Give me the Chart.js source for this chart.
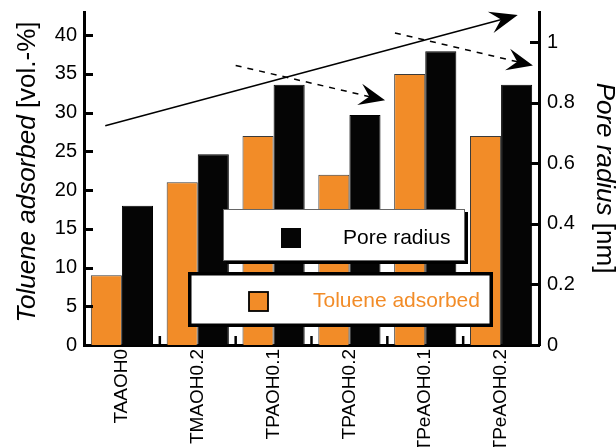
<!DOCTYPE html>
<html><head><meta charset="utf-8">
<script src="https://cdn.jsdelivr.net/npm/chart.js@4.4.0/dist/chart.umd.min.js"></script>
<style>html,body{margin:0;padding:0;background:#fff;} #wrap{width:616px;height:447px;position:relative;}</style>
</head><body><div id="wrap"><canvas id="c" width="616" height="447"></canvas></div>
<script>
// ---- data ----
const categories = ['TAAOH0', 'TMAOH0.2', 'TPAOH0.1', 'TPAOH0.2', 'TPeAOH0.1', 'TPeAOH0.2'];
const tolueneAdsorbed = [9, 21, 27, 22, 35, 27];
const poreRadius = [0.46, 0.63, 0.86, 0.76, 0.97, 0.86];
const leftTicks = [0, 5, 10, 15, 20, 25, 30, 35, 40];
const rightTicks = [0, 0.2, 0.4, 0.6, 0.8, 1];
// trend arrows in data coordinates: [category index, toluene value]
const arrowFrom = [[-0.22, 28.3], [1.50, 36.1], [3.60, 40.3]];
const arrowTo = [[5.22, 42.6], [3.47, 31.6], [5.42, 36.1]];
const arrowDashed = [false, true, true];

const FONT = '"Liberation Sans", Arial, Helvetica, sans-serif';
const ORANGE = '#F28C28';
const BLACK = '#050505';

function drawArrowHead(ctx, tx, ty, dx, dy, L, W) {
  const nx = -dy, ny = dx;
  const bx = tx - L * dx, by = ty - L * dy;
  const mx = tx - 0.62 * L * dx, my = ty - 0.62 * L * dy;
  ctx.beginPath();
  ctx.moveTo(tx, ty);
  ctx.lineTo(bx + W * nx, by + W * ny);
  ctx.lineTo(mx, my);
  ctx.lineTo(bx - W * nx, by - W * ny);
  ctx.closePath();
  ctx.fill();
}

const decor = {
  id: 'decor',
  afterDatasetsDraw(chart) {
    const ctx = chart.ctx, xs = chart.scales.x, ys = chart.scales.yL;
    ctx.save();
    ctx.strokeStyle = '#000'; ctx.fillStyle = '#000';
    for (let i = 0; i < arrowFrom.length; i++) {
      const x0 = xs.getPixelForValue(arrowFrom[i][0]), y0 = ys.getPixelForValue(arrowFrom[i][1]);
      const x1 = xs.getPixelForValue(arrowTo[i][0]), y1 = ys.getPixelForValue(arrowTo[i][1]);
      const len = Math.hypot(x1 - x0, y1 - y0);
      const dx = (x1 - x0) / len, dy = (y1 - y0) / len;
      const L = arrowDashed[i] ? 26 : 28, W = 11;
      ctx.lineWidth = 1.5;
      ctx.setLineDash(arrowDashed[i] ? [6, 6] : []);
      ctx.beginPath();
      ctx.moveTo(x0, y0);
      ctx.lineTo(x1 - 0.6 * L * dx, y1 - 0.6 * L * dy);
      ctx.stroke();
      ctx.setLineDash([]);
      drawArrowHead(ctx, x1, y1, dx, dy, L, W);
    }
    ctx.restore();
  },
  afterDraw(chart) {
    const ctx = chart.ctx, a = chart.chartArea;
    const xs = chart.scales.x, yl = chart.scales.yL, yr = chart.scales.yR;
    ctx.save();
    // inward ticks
    ctx.strokeStyle = '#000';
    ctx.lineWidth = 3;
    yl.ticks.forEach(t => {
      const y = Math.round(yl.getPixelForValue(t.value)) + 0.5;
      if (t.value === 0) return;
      ctx.beginPath(); ctx.moveTo(a.left, y); ctx.lineTo(a.left + 9, y); ctx.stroke();
    });
    yr.ticks.forEach(t => {
      const y = Math.round(yr.getPixelForValue(t.value)) + 0.5;
      if (t.value === 0) return;
      ctx.beginPath(); ctx.moveTo(a.right, y); ctx.lineTo(a.right - 9, y); ctx.stroke();
    });
    ctx.lineWidth = 2.5;
    for (let i = 0; i < categories.length - 1; i++) {
      const x = (xs.getPixelForTick(i) + xs.getPixelForTick(i + 1)) / 2;
      ctx.beginPath(); ctx.moveTo(x, a.bottom); ctx.lineTo(x, a.bottom - 9); ctx.stroke();
    }
    // axis titles with mixed styles
    function mixedTitle(parts, cx, cy, rot) {
      ctx.save();
      ctx.translate(cx, cy);
      ctx.rotate(rot);
      ctx.textBaseline = 'alphabetic';
      ctx.fillStyle = '#000';
      let total = 0;
      parts.forEach(p => { ctx.font = p[1] + ' 26px ' + FONT; total += ctx.measureText(p[0]).width; });
      let x = -total / 2;
      parts.forEach(p => { ctx.font = p[1] + ' 26px ' + FONT; ctx.fillText(p[0], x, 0); x += ctx.measureText(p[0]).width; });
      ctx.restore();
    }
    mixedTitle([['Toluene adsorbed', 'italic'], [' [vol.-%]', 'normal']], 35, 172, -Math.PI / 2);
    mixedTitle([['Pore radius', 'italic'], [' [nm]', 'normal']], 597, 178, Math.PI / 2);

    // legend boxes
    const dsT = chart.data.datasets[0], dsP = chart.data.datasets[1];
    // box 1: pore radius
    ctx.fillStyle = '#000';
    ctx.fillRect(226, 212, 242, 52);
    ctx.fillStyle = '#fff';
    ctx.fillRect(223, 209, 242, 52);
    ctx.strokeStyle = '#666'; ctx.lineWidth = 1;
    ctx.strokeRect(223.5, 209.5, 241, 51);
    ctx.fillStyle = dsP.backgroundColor;
    ctx.fillRect(281, 228, 20, 20);
    ctx.font = '21px ' + FONT;
    ctx.textBaseline = 'middle';
    ctx.textAlign = 'left';
    ctx.fillStyle = '#000';
    ctx.fillText(dsP.label, 343, 238);
    // box 2: toluene adsorbed
    ctx.fillStyle = '#fff';
    ctx.fillRect(188, 272, 305, 55);
    ctx.strokeStyle = '#000'; ctx.lineWidth = 3.5;
    ctx.strokeRect(189.75, 273.75, 301.5, 51.5);
    ctx.fillStyle = dsT.backgroundColor;
    ctx.fillRect(249, 292, 19, 19);
    ctx.lineWidth = 1.8; ctx.strokeStyle = '#000';
    ctx.strokeRect(249, 292, 19, 19);
    ctx.fillStyle = ORANGE;
    ctx.fillText(dsT.label, 313, 301);
    ctx.restore();
  }
};

function zeroPad(s) { s.paddingLeft = 0; s.paddingRight = 0; s.paddingTop = 0; s.paddingBottom = 0; }

new Chart(document.getElementById('c'), {
  type: 'bar',
  data: {
    labels: categories,
    datasets: [
      { label: 'Toluene adsorbed', data: tolueneAdsorbed, yAxisID: 'yL', backgroundColor: ORANGE,
        borderColor: '#3a3a3a', borderWidth: 1, categoryPercentage: 0.82, barPercentage: 1 },
      { label: 'Pore radius', data: poreRadius, yAxisID: 'yR', backgroundColor: BLACK,
        borderColor: '#000', borderWidth: 1, categoryPercentage: 0.82, barPercentage: 1 }
    ]
  },
  options: {
    responsive: false,
    animation: false,
    devicePixelRatio: 1,
    layout: { padding: { top: 12, left: 0, right: 0, bottom: 0 } },
    plugins: { legend: { display: false }, tooltip: { enabled: false } },
    scales: {
      x: {
        type: 'category', offset: true, z: 1,
        grid: { display: false, drawTicks: false },
        border: { display: true, width: 3, color: '#000' },
        ticks: { font: { family: FONT, size: 19 }, color: '#000', minRotation: 90, maxRotation: 90, padding: 4, autoSkip: false },
        afterFit: s => { s.height = 102; zeroPad(s); }
      },
      yL: {
        type: 'linear', position: 'left', min: 0, max: 43, z: 1,
        afterBuildTicks: s => { s.ticks = leftTicks.map(v => ({ value: v })); },
        grid: { display: false, drawTicks: false },
        border: { display: true, width: 3, color: '#000' },
        ticks: { font: { family: FONT, size: 20 }, color: '#000', padding: 7 },
        afterFit: s => { s.width = 84; zeroPad(s); }
      },
      yR: {
        type: 'linear', position: 'right', min: 0, max: 1.1, z: 1,
        afterBuildTicks: s => { s.ticks = rightTicks.map(v => ({ value: v })); },
        grid: { display: false, drawTicks: false },
        border: { display: true, width: 3, color: '#000' },
        ticks: { font: { family: FONT, size: 20 }, color: '#000', padding: 8, callback: v => String(v) },
        afterFit: s => { s.width = 77; zeroPad(s); }
      }
    }
  },
  plugins: [decor]
});
</script>
</body></html>
